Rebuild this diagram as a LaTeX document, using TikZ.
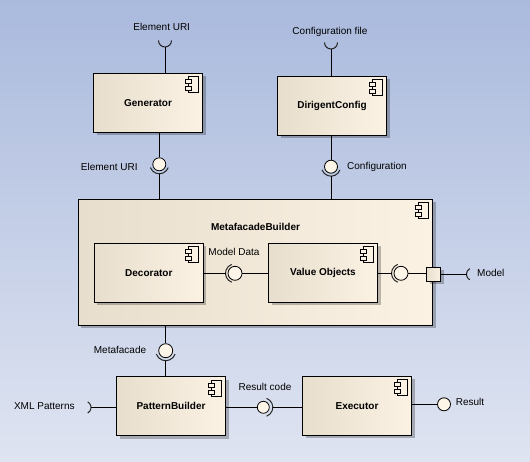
\documentclass[tikz,border=0pt]{standalone}
\usepackage{fontspec}
\setmainfont{Liberation Sans}
\usetikzlibrary{shadows,calc}
\definecolor{bgtop}{RGB}{170,186,221}
\definecolor{bgbot}{RGB}{223,228,241}
\definecolor{boxL}{RGB}{231,222,205}
\definecolor{boxR}{RGB}{251,242,228}
\definecolor{ballfill}{RGB}{252,245,232}
\tikzset{
  compbox/.style={draw=black, line width=1pt, left color=boxL, middle color=boxR, right color=boxR,
    inner sep=0pt, font=\bfseries\fontsize{10}{12}\selectfont,
    drop shadow={shadow xshift=3pt, shadow yshift=-3pt, fill=black, opacity=0.25}},
  comp/.style={compbox, minimum width=109pt, minimum height=59pt},
  ball/.style={circle, draw=black, line width=0.8pt, fill=ballfill, minimum size=13pt, inner sep=0pt},
  lbl/.style={font=\fontsize{10}{12}\selectfont, inner sep=0pt},
  conn/.style={draw=black, line width=1pt},
  sock/.style={draw=black!85, line width=1pt},
  compicon/.pic={
    \draw[line width=0.8pt, fill=boxR] (-15,4) rectangle (-5,20);
    \draw[line width=0.8pt, fill=boxR] (-18,7) rectangle (-12,11);
    \draw[line width=0.8pt, fill=boxR] (-18,14) rectangle (-12,18);
  }
}
\begin{document}
\begin{tikzpicture}[x=1pt,y=-1pt]
\useasboundingbox (0,0) rectangle (530,462);
\fill[top color=bgtop, bottom color=bgbot] (0,0) rectangle (530,462);

% components
\node[comp] (gen) at (148,102.8) {Generator};
\pic at (gen.north east) {compicon};
\node[comp] (dir) at (332,105.7) {DirigentConfig};
\pic at (dir.north east) {compicon};
\node[compbox, minimum width=354.4pt, minimum height=126pt] (mb) at (255.5,262.3) {};
\pic at (mb.north east) {compicon};
\node[lbl, font=\bfseries\fontsize{10}{12}\selectfont] (mbtitle) at (255.5,227) {MetafacadeBuilder};
\node[comp] (dec) at (148.8,272.8) {Decorator};
\pic at (dec.north east) {compicon};
\node[comp] (vo) at (323,272.8) {Value Objects};
\pic at (vo.north east) {compicon};
\node[comp] (pb) at (171,406) {PatternBuilder};
\pic at (pb.north east) {compicon};
\node[comp] (ex) at (357,405.8) {Executor};
\pic at (ex.north east) {compicon};
\node[compbox, minimum size=14pt] (port) at (433.7,274.2) {};

% Generator top: required Element URI
\coordinate (rq1) at (165,47);
\draw[sock] ([shift={(0:6.5)}]165,40.5) arc (0:180:6.5);
\draw[conn] (rq1) -- (rq1 |- gen.north);
\node[lbl] (l1) at (161.7,27.3) {Element URI};

% Generator bottom: provided Element URI
\node[ball] (b1) at (159.3,164.3) {};
\draw[conn] (gen.south -| b1) -- (b1);
\coordinate (s1) at ($(b1.center)+(0,9.5)$);
\draw[sock] ([shift={(20:9.5)}]b1.center) arc (20:160:9.5);
\draw[conn] (s1) -- (s1 |- mb.north);
\node[lbl] (l2) at (109.3,166.7) {Element URI};

% DirigentConfig top: required Configuration file
\coordinate (rq2) at (331,49);
\draw[sock] ([shift={(0:6.5)}]331,42.5) arc (0:180:6.5);
\draw[conn] (rq2) -- (rq2 |- dir.north);
\node[lbl] (l3) at (330,32) {Configuration file};

% DirigentConfig bottom: Configuration
\node[ball] (b2) at (331,166.7) {};
\draw[conn] (dir.south -| b2) -- (b2);
\coordinate (s2) at ($(b2.center)+(0,9.5)$);
\draw[sock] ([shift={(20:9.5)}]b2.center) arc (20:160:9.5);
\draw[conn] (s2) -- (s2 |- mb.north);
\node[lbl, anchor=west] (l4) at (347,167) {Configuration};

% Model Data
\node[ball, minimum size=14pt] (b3) at (235,273.3) {};
\coordinate (s3) at ($(b3.center)+(-9.5,0)$);
\draw[sock] ([shift={(110:9.5)}]b3.center) arc (110:250:9.5);
\draw[conn] (dec.east |- s3) -- (s3);
\draw[conn] (b3) -- (b3 -| vo.west);
\node[lbl] (l5) at (234,251.7) {Model Data};

% Value Objects to port
\node[ball, minimum size=14pt] (b4) at (401,273.3) {};
\coordinate (s4) at ($(b4.center)+(-9.5,0)$);
\draw[sock] ([shift={(110:9.5)}]b4.center) arc (110:250:9.5);
\draw[conn] (vo.east |- s4) -- (s4);
\draw[conn] (b4) -- (b4 -| port.west);

% Model required
\coordinate (rq3) at (466.7,274.2);
\draw[sock] ([shift={(120:6.5)}]473,274.2) arc (120:240:6.5);
\draw[conn] (port.east |- rq3) -- (rq3);
\node[lbl, anchor=west] (l6) at (477,273) {Model};

% Metafacade
\node[ball, minimum size=14pt] (b5) at (165.7,350.7) {};
\draw[conn] (mb.south -| b5) -- (b5);
\coordinate (s5) at ($(b5.center)+(0,10)$);
\draw[sock] ([shift={(20:10)}]b5.center) arc (20:160:10);
\draw[conn] (s5) -- (s5 |- pb.north);
\node[lbl] (l7) at (120,350) {Metafacade};

% XML Patterns
\coordinate (rq4) at (91,407.5);
\draw[sock] ([shift={(-60:6.5)}]84.5,407.5) arc (-60:60:6.5);
\draw[conn] (rq4) -- (rq4 -| pb.west);
\node[lbl] (l8) at (44.3,406) {XML Patterns};

% Result code
\node[ball, minimum size=12pt] (b6) at (263.3,407.3) {};
\coordinate (s6) at ($(b6.center)+(9.5,0)$);
\draw[sock] ([shift={(-70:9.5)}]b6.center) arc (-70:70:9.5);
\draw[conn] (pb.east |- b6) -- (b6);
\draw[conn] (s6) -- (s6 -| ex.west);
\node[lbl] (l9) at (265,387) {Result code};

% Result
\node[ball] (b7) at (444,404.3) {};
\draw[conn] (ex.east |- b7) -- (b7);
\node[lbl, anchor=west] (l10) at (455.7,402) {Result};
\end{tikzpicture}
\end{document}
